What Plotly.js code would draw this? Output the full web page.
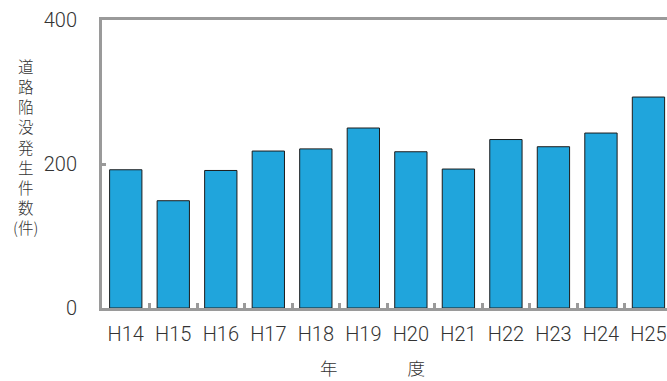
<!DOCTYPE html>
<html>
<head>
<meta charset="utf-8">
<script src="https://cdn.plot.ly/plotly-3.0.1.min.js"></script>
<style>
  html, body { margin: 0; padding: 0; overflow: hidden; background: #fff; }
  #chart { width: 667px; height: 381px; }
</style>
</head>
<body>
<div id="chart"></div>
<script>
// 年度ごとの道路陥没発生件数
const years = ['H14', 'H15', 'H16', 'H17', 'H18', 'H19', 'H20', 'H21', 'H22', 'H23', 'H24', 'H25'];
const counts = [192, 149, 191, 218, 221, 250, 217, 193, 234, 224, 243, 293];
const yTitleChars = ['道', '路', '陥', '没', '発', '生', '件', '数', '(件)'];

const axisGray = '#9a9a9a';
const textColor = '#333333';
const latinFont = 'Roboto, Liberation Sans, Arial, sans-serif';
const cjkFont = 'Noto Sans CJK JP, sans-serif';

const trace = {
  type: 'bar',
  x: years,
  y: counts,
  width: 0.68,
  marker: { color: '#20a5dc', line: { color: '#1c1c1c', width: 1 } },
  hoverinfo: 'x+y'
};

const tickFont = { family: latinFont, size: 20, color: textColor, weight: 300 };

const layout = {
  width: 667,
  height: 381,
  margin: { l: 102, r: 0, t: 20, b: 73 },
  paper_bgcolor: '#ffffff',
  plot_bgcolor: '#ffffff',
  showlegend: false,
  font: { family: latinFont, color: textColor, size: 20 },
  xaxis: {
    type: 'category',
    range: [-0.5, 11.39],
    showline: true,
    linecolor: axisGray,
    linewidth: 3,
    mirror: true,
    ticks: 'inside',
    tickson: 'boundaries',
    ticklen: 5,
    tickwidth: 3,
    tickcolor: axisGray,
    showgrid: false,
    zeroline: false,
    tickfont: tickFont,
    ticklabelstandoff: 6
  },
  yaxis: {
    range: [0, 400],
    dtick: 200,
    showline: true,
    linecolor: axisGray,
    linewidth: 3,
    ticks: 'inside',
    ticklen: 4,
    tickwidth: 3,
    tickcolor: axisGray,
    showgrid: false,
    zeroline: false,
    tickfont: tickFont,
    ticklabelstandoff: 18
  },
  annotations: [
    {
      // vertical axis title: one glyph per line
      text: yTitleChars.join('<br>'),
      xref: 'paper', yref: 'paper',
      x: -0.136, y: 0.562,
      xanchor: 'center', yanchor: 'middle',
      showarrow: false,
      align: 'center',
      font: { family: cjkFont, size: 15.5, color: textColor, weight: 300 }
    },
    {
      text: '年\u3000\u3000\u3000\u3000度',
      xref: 'paper', yref: 'paper',
      x: 0.4796, y: -0.208,
      xanchor: 'center', yanchor: 'middle',
      showarrow: false,
      font: { family: cjkFont, size: 17.5, color: textColor, weight: 300 }
    }
  ]
};

Plotly.newPlot('chart', [trace], layout, { staticPlot: true, displayModeBar: false });
</script>
</body>
</html>
